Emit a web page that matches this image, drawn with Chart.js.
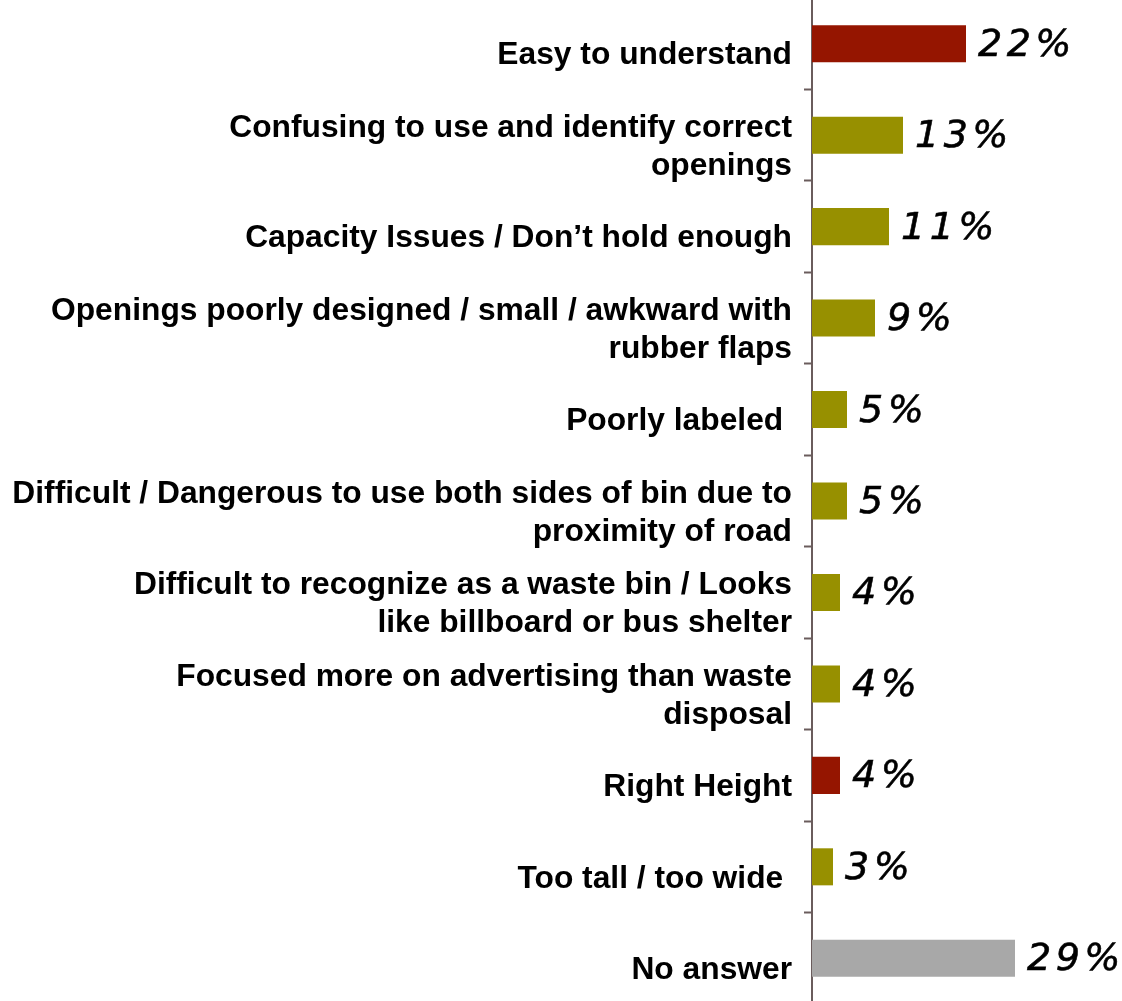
<!DOCTYPE html>
<html>
<head>
<meta charset="utf-8">
<script src="https://cdn.jsdelivr.net/npm/chart.js@4/dist/chart.umd.min.js"></script>
<style>
  html, body { margin: 0; padding: 0; background: #fff; overflow: hidden; }
  #wrap { position: absolute; left: 0; top: -2px; width: 1122px; height: 1006px; }
</style>
</head>
<body>
<div id="wrap"><canvas id="c"></canvas></div>
<script>
// ---- data ----
const categories = [
  "Easy to understand",
  ["Confusing to use and identify correct", "openings"],
  "Capacity Issues / Don\u2019t hold enough",
  ["Openings poorly designed / small / awkward with", "rubber flaps"],
  "Poorly labeled ",
  ["Difficult / Dangerous to use both sides of bin due to", "proximity of road"],
  ["Difficult to recognize as a waste bin / Looks", "like billboard or bus shelter"],
  ["Focused more on advertising than waste", "disposal"],
  "Right Height",
  "Too tall / too wide ",
  "No answer"
];
const values = [22, 13, 11, 9, 5, 5, 4, 4, 4, 3, 29];
const groups = ["positive", "negative", "negative", "negative", "negative", "negative",
                "negative", "negative", "positive", "negative", "none"];
const valueLabels = ["22%", "13%", "11%", "9%", "5%", "5%", "4%", "4%", "4%", "3%", "29%"];

// ---- styles ----
const groupColors = { positive: "#951500", negative: "#979000", none: "#a8a8a8" };
const axisColor = "#6a5c5c";

const valueLabelPlugin = {
  id: "valueLabels",
  afterDatasetsDraw(chart) {
    const ctx = chart.ctx;
    const meta = chart.getDatasetMeta(0);
    ctx.save();
    ctx.font = 'italic 38px "DejaVu Sans"';
    try { ctx.letterSpacing = "4.5px"; } catch (e) {}
    ctx.fillStyle = "#000";
    ctx.strokeStyle = "#000";
    ctx.lineWidth = 0.6;
    ctx.textAlign = "left";
    ctx.textBaseline = "alphabetic";
    meta.data.forEach((bar, i) => {
      ctx.fillText(valueLabels[i], bar.x + 12, bar.y + 12);
      ctx.strokeText(valueLabels[i], bar.x + 12, bar.y + 12);
    });
    ctx.restore();
  }
};

new Chart(document.getElementById("c"), {
  type: "bar",
  data: {
    labels: categories,
    datasets: [{
      data: values,
      backgroundColor: groups.map(g => groupColors[g]),
      borderWidth: 0,
      barPercentage: 0.405,
      categoryPercentage: 1.0
    }]
  },
  options: {
    indexAxis: "y",
    responsive: true,
    maintainAspectRatio: false,
    animation: false,
    layout: { padding: { left: 0, right: 2, top: 0, bottom: 0 } },
    plugins: { legend: { display: false }, tooltip: { enabled: false } },
    scales: {
      x: { display: false, min: 0, max: 44 },
      y: {
        offset: true,
        border: { display: true, color: axisColor, width: 2 },
        grid: {
          offset: true,
          drawOnChartArea: false,
          drawTicks: true,
          tickLength: 8,
          tickColor: axisColor,
          tickWidth: 2
        },
        ticks: {
          padding: 12,
          labelOffset: 12,
          color: "#000",
          font: { family: '"Liberation Sans", Arial, sans-serif', size: 31.75, weight: "bold", lineHeight: 1.2 }
        },
        afterFit(scale) {
          scale.width = 812;
          scale.paddingTop = 0;
          scale.paddingBottom = 0;
        }
      }
    }
  },
  plugins: [valueLabelPlugin]
});
</script>
</body>
</html>
